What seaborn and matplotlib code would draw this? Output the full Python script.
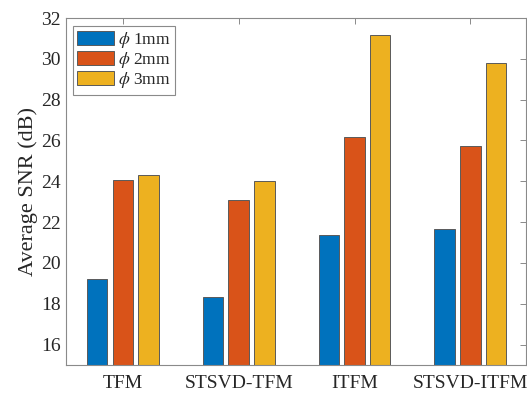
import matplotlib
matplotlib.use("Agg")
import matplotlib.pyplot as plt
import seaborn as sns
import pandas as pd

# Average SNR per imaging method for three defect diameters
methods = ["TFM", "STSVD-TFM", "ITFM", "STSVD-ITFM"]
sizes = [r"$\phi$ 1mm", r"$\phi$ 2mm", r"$\phi$ 3mm"]
snr_1mm = [19.20, 18.35, 21.37, 21.65]
snr_2mm = [24.08, 23.09, 26.16, 25.74]
snr_3mm = [24.33, 24.02, 31.16, 29.80]
colors = ["#0072BD", "#D95319", "#EDB120"]

rows = []
for size, vals in zip(sizes, [snr_1mm, snr_2mm, snr_3mm]):
    for m, v in zip(methods, vals):
        rows.append({"method": m, "size": size, "snr": v})
df = pd.DataFrame(rows)

sns.set_theme(style="white")
plt.rcParams["font.family"] = ["Liberation Serif", "DejaVu Serif"]
plt.rcParams["mathtext.fontset"] = "stix"

tick_fs = 14
label_fs = 16
legend_fs = 12.5
text_color = "#262626"
axis_color = "#8a8a8a"

fig = plt.figure(figsize=(5.27, 3.93), dpi=100)
ax = fig.add_axes([66 / 527, 1 - 365 / 393, 460 / 527, 347 / 393])

sns.barplot(data=df, x="method", y="snr", hue="size", order=methods,
            hue_order=sizes, palette=colors, width=0.667, gap=0.21,
            edgecolor="#5a5a5a", linewidth=0.7, saturation=1, ax=ax)

ax.set_ylim(15, 32)
ax.set_xlim(-0.49, 3.48)
ax.set_yticks(range(16, 33, 2))
ax.set_xlabel("")
ax.set_ylabel("Average SNR (dB)", fontsize=label_fs, color=text_color, labelpad=2)

for s in ax.spines.values():
    s.set_visible(True)
    s.set_color(axis_color)
    s.set_linewidth(0.8)

ax.tick_params(axis="both", which="both", direction="in", length=4,
               width=0.7, color=axis_color, labelcolor=text_color,
               labelsize=tick_fs, top=True, right=True)
ax.tick_params(axis="x", pad=7)
ax.tick_params(axis="y", pad=4)

handles, labels = ax.get_legend_handles_labels()
leg = ax.legend(handles, labels, loc="upper left", bbox_to_anchor=(0.015, 0.977),
                fontsize=legend_fs, frameon=True, fancybox=False, framealpha=1,
                edgecolor=axis_color, handlelength=2.1, handleheight=0.85,
                handletextpad=0.25, labelspacing=0.0, borderpad=0.25,
                borderaxespad=0)
leg.get_frame().set_linewidth(0.8)
for t in leg.get_texts():
    t.set_color(text_color)

fig.savefig("out.png", dpi=100)
